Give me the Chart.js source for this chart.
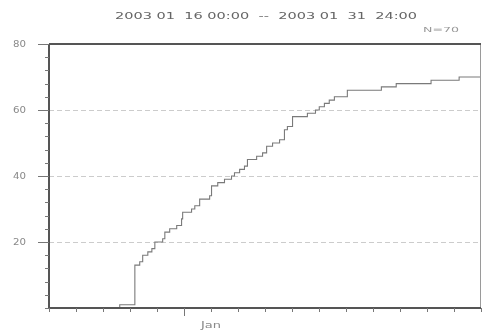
<!DOCTYPE html>
<html>
<head>
<meta charset="utf-8">
<script src="https://cdn.jsdelivr.net/npm/chart.js@4/dist/chart.umd.min.js"></script>
<style>
  html, body { margin: 0; padding: 0; background: #fff; }
  #wrap { width: 482px; height: 336px; position: relative; }
</style>
</head>
<body>
<div id="wrap"><canvas id="chart"></canvas></div>
<script>
// Data: days since 2003-01-16 00:00 and cumulative count from that moment on
const stepDays = [0, 2.62, 3.18, 3.36, 3.47, 3.66, 3.81, 3.92, 4.21, 4.29, 4.47, 4.73, 4.91, 4.95,
    5.28, 5.40, 5.58, 5.95, 6.02, 6.25, 6.50, 6.76, 6.87, 7.06, 7.24, 7.35, 7.69, 7.91, 8.06,
    8.28, 8.54, 8.72, 8.83, 9.02, 9.57, 9.87, 10.01, 10.20, 10.38, 10.57, 11.05, 12.31, 12.86,
    14.15, 15.19, 16];
const stepCounts = [0, 1, 13, 14, 16, 17, 18, 20, 21, 23, 24, 25, 27, 29,
    30, 31, 33, 34, 37, 38, 39, 40, 41, 42, 43, 45, 46, 47, 49,
    50, 51, 54, 55, 58, 59, 60, 61, 62, 63, 64, 66, 67, 68,
    69, 70, 70];

const titleText = '2003 01  16 00:00  --  2003 01  31  24:00';
const countText = 'N=70';
const yLabels = [20, 40, 60, 80];
const yMinorStep = 4;
const dayTicks = [0, 1, 2, 3, 4, 5, 6, 7, 8, 9, 10, 11, 12, 13, 14, 15, 16];
const monthTickDay = 5;
const monthLabel = 'Jan';
const monthLabelDay = 6;

const FONT = '"DejaVu Sans", sans-serif';

// draw centred text stretched horizontally to a given width
function wideText(ctx, text, cx, cy, width) {
    const w = ctx.measureText(text).width;
    ctx.save();
    ctx.translate(cx, cy);
    ctx.scale(width / w, 1);
    ctx.textAlign = 'center';
    ctx.fillText(text, 0, 0);
    ctx.restore();
}

// Axes, ticks and labels drawn by hand from the scales
const framePlugin = {
    id: 'frame',
    beforeDatasetsDraw(chart) {
        const { ctx, chartArea: a, scales: { y } } = chart;
        ctx.save();
        ctx.strokeStyle = '#cccccc';
        ctx.lineWidth = 1;
        ctx.setLineDash([5, 3]);
        yLabels.forEach(v => {
            if (v >= 80) return;
            const py = Math.round(y.getPixelForValue(v)) + 0.5;
            ctx.beginPath();
            ctx.moveTo(a.left, py);
            ctx.lineTo(a.right, py);
            ctx.stroke();
        });
        ctx.restore();
    },
    afterDatasetsDraw(chart) {
        const { ctx, chartArea: a, scales: { x, y } } = chart;
        ctx.save();
        // right border
        ctx.strokeStyle = '#9a9a9a';
        ctx.lineWidth = 1;
        ctx.beginPath();
        ctx.moveTo(a.right - 0.5, a.top);
        ctx.lineTo(a.right - 0.5, a.bottom);
        ctx.stroke();
        // main axes + top border
        ctx.strokeStyle = '#555';
        ctx.lineWidth = 2;
        ctx.beginPath();
        ctx.moveTo(a.left, a.top);
        ctx.lineTo(a.right, a.top);
        ctx.moveTo(a.left, a.top);
        ctx.lineTo(a.left, a.bottom);
        ctx.lineTo(a.right, a.bottom);
        ctx.stroke();

        // y ticks
        ctx.lineWidth = 1;
        ctx.strokeStyle = '#777';
        for (let v = 0; v <= 80; v += yMinorStep) {
            const py = Math.round(y.getPixelForValue(v)) + 0.5;
            const major = yLabels.includes(v);
            ctx.beginPath();
            ctx.moveTo(a.left - (major ? 11 : 4), py);
            ctx.lineTo(a.left, py);
            ctx.stroke();
        }
        // x ticks
        dayTicks.forEach(d => {
            const px = Math.round(x.getPixelForValue(d)) + 0.5;
            ctx.beginPath();
            ctx.moveTo(px, a.bottom);
            ctx.lineTo(px, a.bottom + (d === monthTickDay ? 8 : 4));
            ctx.stroke();
        });

        // labels
        ctx.fillStyle = '#888';
        ctx.textBaseline = 'middle';
        ctx.font = '9px ' + FONT;
        yLabels.forEach(v => {
            wideText(ctx, String(v), 19.5, y.getPixelForValue(v) + 1, 13);
        });
        ctx.font = '8px ' + FONT;
        wideText(ctx, monthLabel, x.getPixelForValue(monthLabelDay), a.bottom + 18, 20);

        ctx.font = '9.5px ' + FONT;
        ctx.fillStyle = '#666';
        wideText(ctx, titleText, 266, 17, 302);
        ctx.font = '7px ' + FONT;
        ctx.fillStyle = '#999';
        wideText(ctx, countText, 441, 30, 36);
        ctx.restore();
    }
};

const ctx = document.getElementById('chart').getContext('2d');
const chart = new Chart(ctx, {
    type: 'line',
    data: {
        datasets: [{
            data: stepDays.map((d, i) => ({ x: d, y: stepCounts[i] })),
            stepped: 'before',
            borderColor: '#7a7a7a',
            borderWidth: 1.1,
            pointRadius: 0,
            fill: false
        }]
    },
    options: {
        responsive: true,
        maintainAspectRatio: false,
        animation: false,
        layout: { padding: { left: 49, right: 1, top: 44, bottom: 28 } },
        plugins: { legend: { display: false }, tooltip: { enabled: false } },
        scales: {
            x: { type: 'linear', min: 0, max: 16, display: false },
            y: { min: 0, max: 80, display: false }
        }
    },
    plugins: [framePlugin]
});
</script>
</body>
</html>
